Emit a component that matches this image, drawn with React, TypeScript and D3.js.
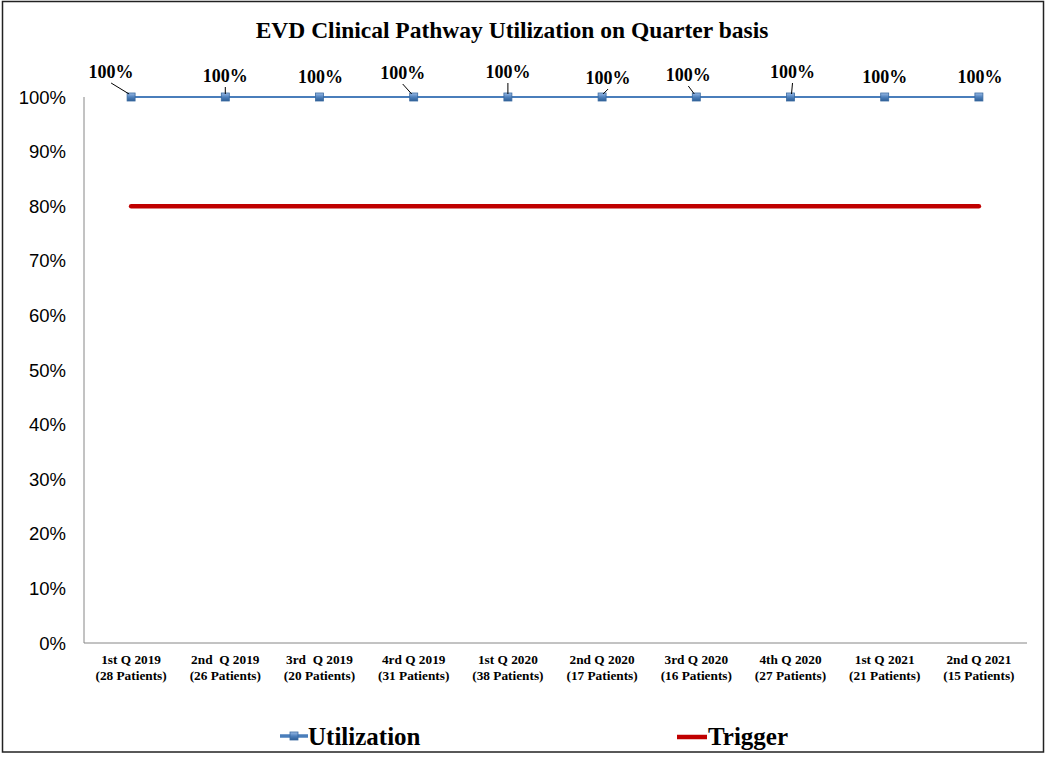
import React from "react";
import * as d3 from "d3";

const categoriesTop = ["1st Q 2019", "2nd  Q 2019", "3rd  Q 2019", "4rd Q 2019", "1st Q 2020", "2nd Q 2020", "3rd Q 2020", "4th Q 2020", "1st Q 2021", "2nd Q 2021"];
const categoriesBottom = ["(28 Patients)", "(26 Patients)", "(20 Patients)", "(31 Patients)", "(38 Patients)", "(17 Patients)", "(16 Patients)", "(27 Patients)", "(21 Patients)", "(15 Patients)"];
const utilization = [1, 1, 1, 1, 1, 1, 1, 1, 1, 1];
const trigger = [0.8, 0.8, 0.8, 0.8, 0.8, 0.8, 0.8, 0.8, 0.8, 0.8];
const yTicks = [0, 0.1, 0.2, 0.3, 0.4, 0.5, 0.6, 0.7, 0.8, 0.9, 1.0];

// label placement (layout only): offset of label from point, and whether a leader line is drawn
const labelLayout = [
  { dx: -20, dy: -19, leader: true },
  { dx: 0, dy: -15, leader: true },
  { dx: 1, dy: -14, leader: false },
  { dx: -11, dy: -18, leader: true },
  { dx: 0, dy: -19, leader: true },
  { dx: 6, dy: -13, leader: true },
  { dx: -8, dy: -16, leader: true },
  { dx: 2, dy: -19, leader: true },
  { dx: 0, dy: -14, leader: false },
  { dx: 1, dy: -14, leader: false },
];

const W = 1045;
const H = 758;
const left = 84;
const right = 1026;
const top = 97;
const bottom = 643;
const serif = "'Liberation Serif', 'Times New Roman', serif";
const sans = "'Liberation Sans', Arial, sans-serif";
const blue = "#4a7ebb";
const red = "#c00000";

export default function App() {
  const x = d3.scalePoint<number>().domain(d3.range(categoriesTop.length)).range([left, right]).padding(0.5);
  const y = d3.scaleLinear().domain([0, 1]).range([bottom, top]);
  const line = d3.line<number>().x((_, i) => x(i)!).y((d) => y(d));
  const pct = d3.format(".0%");

  return (
    <svg width={W} height={H} style={{ position: "absolute", left: 0, top: 0 }}>
      <defs>
        <linearGradient id="mk" x1="0" y1="0" x2="0" y2="1">
          <stop offset="0" stopColor="#9cbce6" />
          <stop offset="0.5" stopColor="#4f81bd" />
          <stop offset="1" stopColor="#2f5f96" />
        </linearGradient>
      </defs>
      <rect x={0} y={0} width={W} height={H} fill="#fff" />
      <rect x={2.5} y={1.5} width={1041} height={750.5} fill="none" stroke="#222" strokeWidth={1.5} />
      <text x={512} y={38} textAnchor="middle" fontFamily={serif} fontWeight="bold" fontSize={23.5}>
        EVD Clinical Pathway Utilization on Quarter basis
      </text>
      {/* axes */}
      <line x1={left} x2={left} y1={top} y2={bottom} stroke="#868686" strokeWidth={1} />
      <line x1={left} x2={right + 1} y1={bottom} y2={bottom} stroke="#868686" strokeWidth={1} />
      {yTicks.map((t) => (
        <text key={t} x={66} y={y(t) + 6.5} textAnchor="end" fontFamily={sans} fontSize={18.5} fill="#000">
          {pct(t)}
        </text>
      ))}
      {categoriesTop.map((c, i) => (
        <text key={c} x={x(i)!} textAnchor="middle" fontFamily={serif} fontWeight="bold" fontSize={13.3} style={{ whiteSpace: "pre" }}>
          <tspan x={x(i)!} y={664}>{c}</tspan>
          <tspan x={x(i)!} y={680}>{categoriesBottom[i]}</tspan>
        </text>
      ))}
      {/* trigger */}
      <path d={line(trigger)!} fill="none" stroke={red} strokeWidth={4.5} strokeLinecap="round" />
      {/* utilization */}
      <path d={line(utilization)!} fill="none" stroke={blue} strokeWidth={2.2} />
      {utilization.map((v, i) => (
        <rect key={i} x={x(i)! - 4} y={y(v) - 4} width={8} height={8} fill="url(#mk)" stroke="#3a6aa0" strokeWidth={0.8} />
      ))}
      {utilization.map((v, i) => {
        const L = labelLayout[i];
        const lx = x(i)! + L.dx;
        const ly = y(v) + L.dy;
        return (
          <g key={i}>
            {L.leader && (
              <line x1={lx} y1={ly + 5} x2={x(i)! - (L.dx < 0 ? 2 : L.dx > 0 ? -1 : 0)} y2={y(v) - 3} stroke="#000" strokeWidth={1} />
            )}
            <text x={lx} y={ly} textAnchor="middle" fontFamily={serif} fontWeight="bold" fontSize={18}>
              {pct(v)}
            </text>
          </g>
        );
      })}
      {/* legend */}
      <line x1={280} x2={308} y1={736} y2={736} stroke={blue} strokeWidth={3.5} />
      <rect x={290} y={732} width={8} height={8} fill="url(#mk)" stroke="#3a6aa0" strokeWidth={0.8} />
      <text x={308} y={745} fontFamily={serif} fontWeight="bold" fontSize={25}>Utilization</text>
      <line x1={677} x2={707} y1={737} y2={737} stroke={red} strokeWidth={4.5} />
      <text x={708} y={745} fontFamily={serif} fontWeight="bold" fontSize={25}>Trigger</text>
    </svg>
  );
}
